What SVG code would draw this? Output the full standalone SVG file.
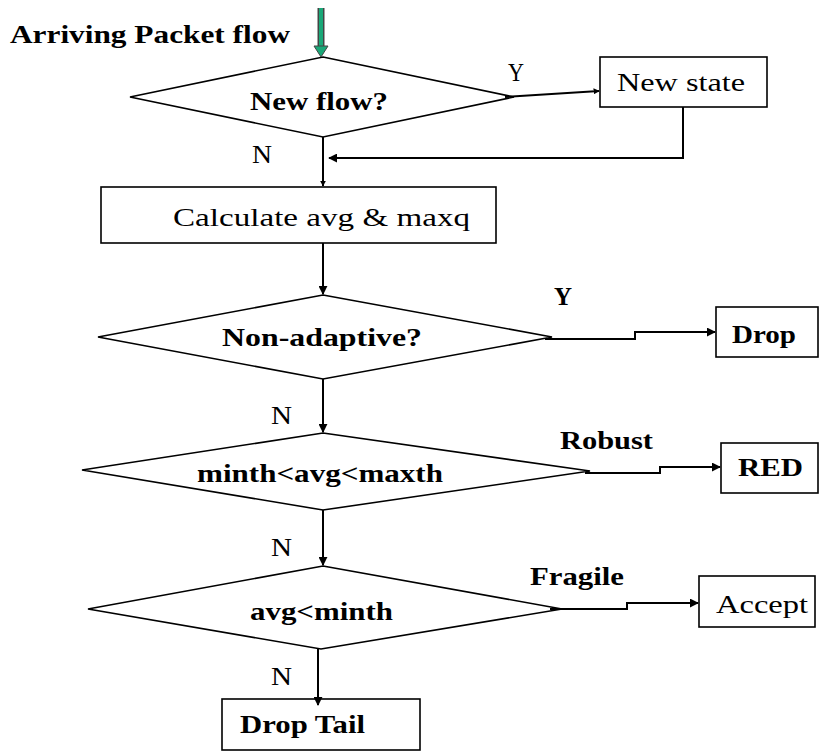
<svg xmlns="http://www.w3.org/2000/svg" width="819" height="751" viewBox="0 0 819 751">
<defs>
<style>
.s{fill:#fff;stroke:#000;stroke-width:1.6}
.c{fill:none;stroke:#000;stroke-width:2}
text{font-family:'Liberation Serif','Times New Roman',serif;fill:#000;font-size:25px}
.b{font-weight:bold}
</style>
<marker id="a" viewBox="0 0 10 10" refX="9" refY="5" markerWidth="6" markerHeight="6" orient="auto" markerUnits="userSpaceOnUse"><path d="M0,0 L10,5 L0,10 z" fill="#000"/></marker>
<marker id="ah" viewBox="0 0 10 10" refX="9" refY="5" markerWidth="9" markerHeight="9" orient="auto" markerUnits="userSpaceOnUse"><path d="M0,0 L10,5 L0,10 z" fill="#000"/></marker>
</defs>
<rect width="819" height="751" fill="#fff"/>
<text x="10" y="43" class="b" font-size="26" textLength="280" lengthAdjust="spacingAndGlyphs">Arriving Packet flow</text>
<g id="n_newflow"><polygon class="s" points="323,57 514,97 323,137 130,97"/><text x="250" y="110" class="b" textLength="138" lengthAdjust="spacingAndGlyphs">New flow?</text></g>
<g id="n_newstate"><rect class="s" x="600" y="57" width="167" height="50"/><text x="617" y="91" textLength="128" lengthAdjust="spacingAndGlyphs">New state</text></g>
<g id="n_calc"><rect class="s" x="101" y="187" width="395" height="56"/><text x="173" y="226" textLength="297" lengthAdjust="spacingAndGlyphs">Calculate avg &amp; maxq</text></g>
<g id="n_nonadapt"><polygon class="s" points="323,295 552,337 323,379 98,337"/><text x="222" y="346" class="b" textLength="200" lengthAdjust="spacingAndGlyphs">Non-adaptive?</text></g>
<g id="n_drop"><rect class="s" x="716" y="307" width="102" height="50"/><text x="732" y="343" class="b" textLength="64" lengthAdjust="spacingAndGlyphs">Drop</text></g>
<g id="n_minth"><polygon class="s" points="323,433 590,471 323,510 82,470"/><text x="197" y="482" class="b" textLength="246" lengthAdjust="spacingAndGlyphs">minth&lt;avg&lt;maxth</text></g>
<g id="n_red"><rect class="s" x="721" y="443" width="97" height="50"/><text x="738" y="476" class="b" textLength="65" lengthAdjust="spacingAndGlyphs">RED</text></g>
<g id="n_avg"><polygon class="s" points="323,566 562,609 321,649 88,609"/><text x="250" y="620" class="b" textLength="143" lengthAdjust="spacingAndGlyphs">avg&lt;minth</text></g>
<g id="n_accept"><rect class="s" x="699" y="576" width="116" height="51"/><text x="716" y="613" textLength="92" lengthAdjust="spacingAndGlyphs">Accept</text></g>
<g id="n_droptail"><rect class="s" x="222" y="699" width="198" height="51"/><text x="240" y="733" class="b" textLength="125" lengthAdjust="spacingAndGlyphs">Drop Tail</text></g>
<g id="connectors">
<line x1="321" y1="8" x2="321" y2="46" stroke="#444" stroke-width="7"/>
<line x1="321" y1="8" x2="321" y2="46" stroke="#1aa878" stroke-width="4"/>
<path d="M314,46 L328,46 L321,57 z" fill="#1aa878" stroke="#444" stroke-width="1"/>
<path class="c" d="M505,97 L599,91" marker-end="url(#a)"/>
<path class="c" d="M683,107 L683,158 L329,158" marker-end="url(#ah)"/>
<path class="c" d="M323,137 L323,186" marker-end="url(#a)"/>
<path class="c" d="M323,243 L323,294" marker-end="url(#ah)"/>
<path class="c" d="M545,339 L635,339 L635,332 L715,332" marker-end="url(#ah)"/>
<path class="c" d="M323,379 L323,432" marker-end="url(#ah)"/>
<path class="c" d="M585,473 L660,473 L660,467 L720,467" marker-end="url(#ah)"/>
<path class="c" d="M323,510 L323,565" marker-end="url(#ah)"/>
<path class="c" d="M550,609 L627,609 L627,603 L698,603" marker-end="url(#ah)"/>
<path class="c" d="M318,649 L318,705" marker-end="url(#ah)"/>
</g>
<text x="508" y="81" font-size="22" textLength="16" lengthAdjust="spacingAndGlyphs">Y</text>
<text x="252" y="163" font-size="22" textLength="20" lengthAdjust="spacingAndGlyphs">N</text>
<text x="554" y="305" class="b" font-size="24" textLength="18" lengthAdjust="spacingAndGlyphs">Y</text>
<text x="271" y="424" font-size="22" textLength="21" lengthAdjust="spacingAndGlyphs">N</text>
<text x="560" y="449" class="b" font-size="23" textLength="93" lengthAdjust="spacingAndGlyphs">Robust</text>
<text x="271" y="556" font-size="22" textLength="21" lengthAdjust="spacingAndGlyphs">N</text>
<text x="530" y="585" class="b" font-size="23" textLength="94" lengthAdjust="spacingAndGlyphs">Fragile</text>
<text x="271" y="685" font-size="22" textLength="21" lengthAdjust="spacingAndGlyphs">N</text>
</svg>
